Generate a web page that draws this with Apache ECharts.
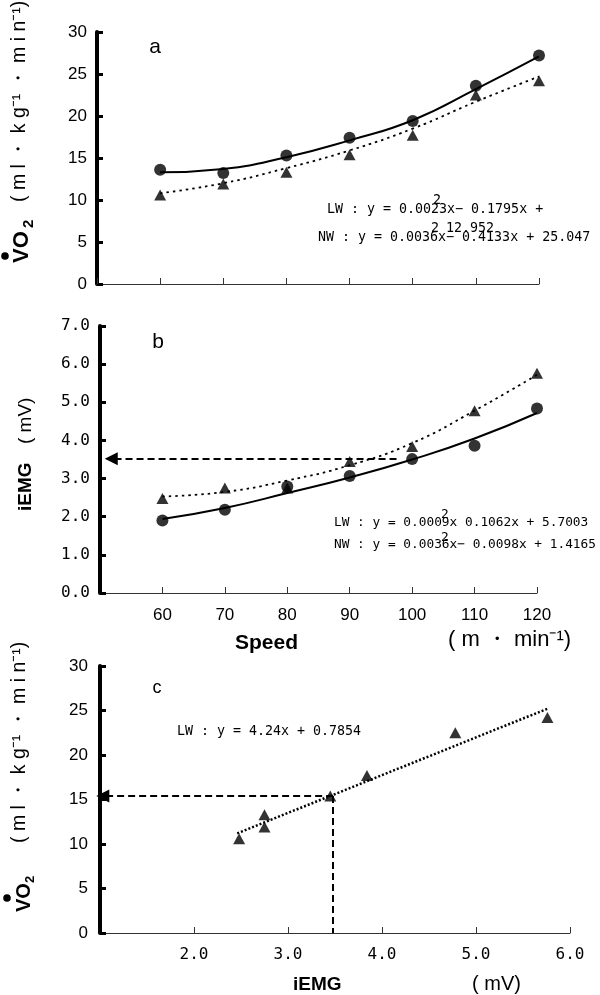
<!DOCTYPE html>
<html><head><meta charset="utf-8">
<script src="https://cdn.jsdelivr.net/npm/echarts@6/dist/echarts.min.js"></script>
<style>html,body{margin:0;padding:0;background:#fff}#c{width:600px;height:995px}</style>
</head><body><div id="c"></div><script>
// ---- data ----
const speeds = [60, 70, 80, 90, 100, 110, 120];
// panel a: VO2 vs speed
const vo2LW = [10.6, 11.9, 13.3, 15.4, 17.7, 22.5, 24.2];     // triangles
const vo2NW = [13.6, 13.2, 15.3, 17.4, 19.4, 23.6, 27.2];     // circles
const vo2TrendLW = [10.8, 12.0, 13.8, 15.9, 18.5, 21.7, 24.7]; // dotted
const vo2TrendNW = [13.3, 13.7, 15.1, 17.1, 19.5, 23.2, 27.1]; // solid
// panel b: iEMG vs speed
const emgLW = [2.48, 2.75, 2.75, 3.45, 3.84, 4.78, 5.76];     // triangles
const emgNW = [1.90, 2.18, 2.79, 3.07, 3.51, 3.86, 4.84];     // circles
const emgTrendLW = [2.53, 2.65, 2.95, 3.35, 3.93, 4.78, 5.72];
const emgTrendNW = [1.94, 2.23, 2.62, 3.03, 3.50, 4.05, 4.72];
// panel c: VO2 vs iEMG (LW)
const cTrendX = [2.46, 5.76];
const cTrendY = [11.2, 25.2];
// guide arrows
const arrowB = { fromSpeed: 97.5, toSpeed: 51.8, emg: 3.52 };
const arrowC = { fromEmg: 3.48, toEmg: 1.03, vo2: 15.4 };
// equation labels
const eqA1 = 'LW : y = 0.0023x\u2212 0.1795x +';
const eqA2 = 'NW : y = 0.0036x\u2212 0.4133x + 25.047';
const eqA3 = '12.952';
const eqB1 = 'LW : y = 0.0009x 0.1062x + 5.7003';
const eqB2 = 'NW : y = 0.0036x\u2212 0.0098x + 1.4165';
const eqC = 'LW : y = 4.24x + 0.7854';

const pair = (xs, ys) => xs.map((x, i) => [x, ys[i]]);
const chart = echarts.init(document.getElementById('c'), null, { renderer: 'canvas' });

const SANS = 'Liberation Sans, Arial, sans-serif';
const MONO = 'DejaVu Sans Mono, Liberation Mono, monospace';
const BOLD = 'bold 22px Liberation Sans, Arial, sans-serif';

function yAxis(grid, max, interval, fmt, font, margin) {
  return {
    type: 'value', gridIndex: grid, min: 0, max: max, interval: interval,
    axisLine: { show: true, lineStyle: { color: '#000', width: 4 } },
    axisTick: { show: true, inside: true, length: 6, lineStyle: { color: '#000', width: 3 } },
    axisLabel: { color: '#000', fontFamily: font, fontSize: font === MONO ? 16 : 17, margin: margin, formatter: fmt },
    splitLine: { show: false }
  };
}
function xAxis(grid, min, max, interval, showLabels, fmt, font) {
  return {
    type: 'value', gridIndex: grid, min: min, max: max, interval: interval,
    axisLine: { show: true, onZero: false, lineStyle: { color: '#333', width: 1 } },
    axisTick: { show: true, inside: true, length: 6, lineStyle: { color: '#333', width: 1 } },
    axisLabel: { show: showLabels, color: '#000', fontFamily: font, fontSize: font === MONO ? 16 : 17, margin: 14, showMinLabel: false, formatter: fmt },
    splitLine: { show: false }
  };
}
const dotLine = { color: '#000', width: 1.8, type: [2.5, 4] };
const solidLine = { color: '#000', width: 2 };
const dashArrow = { color: '#000', width: 2, type: [7, 4] };

function txt(x, y, text, font, opts) {
  opts = opts || {};
  return {
    type: 'text', x: x, y: y, rotation: opts.rot || 0, z: 100,
    style: { text: text, font: font, fill: '#000', textAlign: opts.align || 'left', textVerticalAlign: 'middle', align: opts.align || 'left', verticalAlign: 'middle' }
  };
}
const R = Math.PI / 2;
const unitVO2 = '( m l \u30FB k g\u207B\u00B9 \u30FB m i n\u207B\u00B9)';

const option = {
  animation: false,
  backgroundColor: '#fff',
  grid: [
    { left: 97, top: 32, width: 442, height: 252 },
    { left: 100, top: 326, width: 437, height: 267 },
    { left: 100, top: 666, width: 470, height: 267 }
  ],
  xAxis: [
    xAxis(0, 50, 120, 10, false, v => v, SANS),
    xAxis(1, 50, 120, 10, true, v => (v === 50 ? '' : String(v)), SANS),
    xAxis(2, 1, 6, 1, true, v => (v === 1 ? '' : v.toFixed(1)), MONO)
  ],
  yAxis: [
    yAxis(0, 30, 5, v => String(v), SANS, 10),
    yAxis(1, 7, 1, v => v.toFixed(1), MONO, 10),
    yAxis(2, 30, 5, v => String(v), SANS, 12)
  ],
  series: [
    // panel a
    { type: 'line', xAxisIndex: 0, yAxisIndex: 0, data: pair(speeds, vo2TrendNW), smooth: true, showSymbol: false, lineStyle: solidLine, silent: true },
    { type: 'line', xAxisIndex: 0, yAxisIndex: 0, data: pair(speeds, vo2TrendLW), smooth: true, showSymbol: false, lineStyle: dotLine, silent: true },
    { type: 'scatter', xAxisIndex: 0, yAxisIndex: 0, data: pair(speeds, vo2NW), symbol: 'circle', symbolSize: 12, itemStyle: { color: '#000' }, z: 5 },
    { type: 'scatter', xAxisIndex: 0, yAxisIndex: 0, data: pair(speeds, vo2LW), symbol: 'triangle', symbolSize: [12, 11], itemStyle: { color: '#000' }, z: 6 },
    // panel b
    { type: 'line', xAxisIndex: 1, yAxisIndex: 1, data: pair(speeds, emgTrendNW), smooth: true, showSymbol: false, lineStyle: solidLine, silent: true,
      markLine: { silent: true, symbol: ['none', 'triangle'], symbolSize: 13, label: { show: false }, lineStyle: dashArrow,
        data: [[{ coord: [arrowB.fromSpeed, arrowB.emg] }, { coord: [arrowB.toSpeed, arrowB.emg] }]] } },
    { type: 'line', xAxisIndex: 1, yAxisIndex: 1, data: pair(speeds, emgTrendLW), smooth: true, showSymbol: false, lineStyle: dotLine, silent: true },
    { type: 'scatter', xAxisIndex: 1, yAxisIndex: 1, data: pair(speeds, emgNW), symbol: 'circle', symbolSize: 12, itemStyle: { color: '#000' }, z: 5 },
    { type: 'scatter', xAxisIndex: 1, yAxisIndex: 1, data: pair(speeds, emgLW), symbol: 'triangle', symbolSize: [12, 11], itemStyle: { color: '#000' }, z: 6 },
    // panel c
    { type: 'line', xAxisIndex: 2, yAxisIndex: 2, data: pair(cTrendX, cTrendY), showSymbol: false, lineStyle: { color: '#000', width: 2.5, type: [2, 2] }, silent: true,
      markLine: { silent: true, symbol: ['none', 'triangle'], symbolSize: 13, label: { show: false }, lineStyle: dashArrow,
        data: [
          [{ coord: [arrowC.fromEmg, arrowC.vo2] }, { coord: [arrowC.toEmg, arrowC.vo2] }],
          [{ coord: [arrowC.fromEmg, arrowC.vo2], symbol: 'none' }, { coord: [arrowC.fromEmg, 0], symbol: 'none' }]
        ] } },
    { type: 'scatter', xAxisIndex: 2, yAxisIndex: 2, data: pair(emgLW, vo2LW), symbol: 'triangle', symbolSize: [12, 11], itemStyle: { color: '#000' }, z: 6 }
  ],
  graphic: [
    // panel letters
    txt(155, 47, 'a', '21px ' + SANS, { align: 'center' }),
    txt(158, 342, 'b', '21px ' + SANS, { align: 'center' }),
    txt(157, 688, 'c', '18px ' + SANS, { align: 'center' }),
    // equations a
    txt(327, 210, eqA1, '13.3px ' + MONO),
    txt(318, 238, eqA2, '13.3px ' + MONO),
    txt(433, 201, '2', '13.3px ' + MONO),
    txt(431, 229, '2', '13.3px ' + MONO),
    txt(446, 229, eqA3, '13.3px ' + MONO),
    // equations b
    txt(334, 523, eqB1, '12.8px ' + MONO),
    txt(334, 545, eqB2, '12.8px ' + MONO),
    txt(441, 515, '2', '12.8px ' + MONO),
    txt(441, 538, '2', '12.8px ' + MONO),
    // equation c
    txt(177, 732, eqC, '13.3px ' + MONO),
    // y title a
    { type: 'circle', shape: { cx: 5, cy: 256, r: 3.8 }, style: { fill: '#000' }, z: 100 },
    txt(22, 263, 'VO', BOLD, { rot: R }),
    txt(29, 228, '2', 'bold 15px ' + SANS, { rot: R }),
    txt(20, 202, unitVO2, '19.5px ' + SANS, { rot: R }),
    // y title b
    txt(26, 511, 'iEMG', 'bold 19px ' + SANS, { rot: R }),
    txt(26, 444, '( mV)', '19px ' + SANS, { rot: R }),
    // x title b
    txt(235, 643, 'Speed', 'bold 21px ' + SANS),
    txt(448, 640, '( m \u30FB min\u207B\u00B9)', '22px ' + SANS),
    // y title c
    { type: 'circle', shape: { cx: 7, cy: 898, r: 3.8 }, style: { fill: '#000' }, z: 100 },
    txt(24, 912, 'VO', 'bold 20px ' + SANS, { rot: R }),
    txt(30, 883, '2', 'bold 13px ' + SANS, { rot: R }),
    txt(20, 843, unitVO2, '19.5px ' + SANS, { rot: R }),
    // x title c
    txt(293, 985, 'iEMG', 'bold 19px ' + SANS),
    txt(472, 984, '( mV)', '20px ' + SANS)
  ]
};
chart.setOption(option);
</script></body></html>
